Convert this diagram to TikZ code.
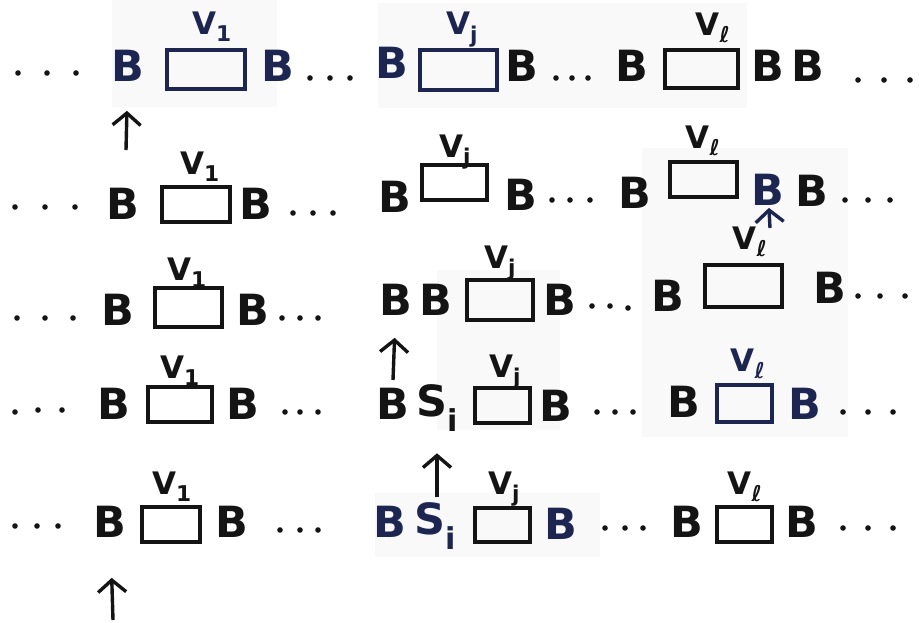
\documentclass[tikz,border=0pt]{standalone}
\usepackage{fontspec}
\setmainfont{DejaVu Sans}
\usetikzlibrary{arrows.meta}
\definecolor{ink}{HTML}{141414}
\definecolor{navy}{HTML}{1C2650}
\definecolor{paper}{HTML}{F9F9FA}

\begin{document}
\begin{tikzpicture}[x=1pt, y=-1pt,
  cell/.style={inner sep=0pt, font=\fontsize{43}{46}\selectfont\bfseries},
  slot/.style={draw, line width=3.6pt, inner sep=0pt},
  lab/.style={inner sep=0pt, font=\fontsize{31}{34}\selectfont\bfseries},
  head/.style={line width=3.4pt, -{Straight Barb[length=12pt,width=28pt]}}]
\useasboundingbox (0,0) rectangle (920,623);

% ---------- pasted patches behind some cells
\foreach \xa/\ya/\xb/\yb in {112/0/277/107, 378/3/747/108, 642/148/848/437,
                             437/270/560/430, 375/493/600/557}
  \fill[paper] (\xa,\ya) rectangle (\xb,\yb);

% ---------- blank cells
\foreach \n/\x/\y/\c in {r1b1/128/66/navy, r1b2/278/66/navy, r1b3/392/63/navy, r1b4/522/66/ink,
                         r1b5/632/66/ink, r1b6/768/66/ink, r1b7/808/66/ink,
                         r2b1/123/204/ink, r2b2/256/204/ink, r2b3/395/197/ink, r2b4/521/195/ink,
                         r2b5/635/193/ink, r2b6/768/190/navy, r2b7/812/191/ink,
                         r3b1/118/310/ink, r3b2/253/310/ink, r3b3/396/300/ink, r3b4/436/300/ink,
                         r3b5/560/300/ink, r3b6/668/296/ink, r3b7/830/288/ink,
                         r4b1/114/404/ink, r4b2/243/404/ink, r4b3/393/404/ink, r4b4/556/406/ink,
                         r4b5/684/402/ink, r4b6/805/404/navy,
                         r5b1/110/522/ink, r5b2/232/522/ink, r5b3/390/522/navy, r5b4/561/524/navy,
                         r5b5/687/522/ink, r5b6/802/522/ink}
  \node[cell, text=\c] (\n) at (\x,\y) {B};
\node[cell, text=ink] (r4si) at (437,408) {S\textsubscript{i}};
\node[cell, text=navy] (r5si) at (435,526) {S\textsubscript{i}};

% ---------- the V blocks
\foreach \n/\x/\y/\w/\h/\c in {r1v1/206/69.5/78/39/navy, r1vj/458.5/70/77/40/navy, r1vl/701.5/69/73/38/ink,
                               r2v1/196/204.5/68/35/ink, r2vj/454.5/182.5/65/35/ink, r2vl/703.5/179.5/67/35/ink,
                               r3v1/188.5/307.5/67/39/ink, r3vj/500/300/66/40/ink, r3vl/743.5/286/77/42/ink,
                               r4v1/180/404.5/64/35/ink, r4vj/502.5/405.5/55/35/ink, r4vl/744.5/403.5/55/37/navy,
                               r5v1/171/524.5/58/35/ink, r5vj/502.5/525/55/34/ink, r5vl/744.5/524.5/55/35/ink}
  \node[slot, draw=\c, minimum width=\w*1pt, minimum height=\h*1pt] (\n) at (\x,\y) {};

% ---------- block names
\foreach \n/\x/\y/\s/\c in {r1l1/212/27/1/navy, r1lj/462/30/j/navy, r1ll/713/28/ℓ/ink,
                            r2l1/200/167/1/ink, r2lj/455/152/j/ink, r2ll/703/141/ℓ/ink,
                            r3l1/187/273/1/ink, r3lj/500/263/j/ink, r3ll/750/242/ℓ/ink,
                            r4l1/180/371/1/ink, r4lj/505/372/j/ink, r4ll/748/364/ℓ/navy,
                            r5l1/172/487/1/ink, r5lj/504/489/j/ink, r5ll/745/487/ℓ/ink}
  \node[lab, text=\c] (\n) at (\x,\y) {V\textsubscript{\s}};

% ---------- dots
\foreach \x/\y in {18/73, 47/73, 76/73, 310/78, 330/78, 350/78, 556/78, 572/78, 588/78,
                   858/80, 884/80, 910/80,
                   15/207, 45/207, 75/207, 293/213, 313/213, 333/213, 552/200, 570/200, 590/200,
                   845/200, 868/200, 890/200,
                   17/318, 45/318, 73/318, 282/318, 300/318, 318/318, 592/306, 610/306, 628/308,
                   858/296, 880/296, 905/296,
                   15/412, 38/410, 62/410, 285/412, 300/412, 318/412, 597/412, 615/412, 633/412,
                   843/412, 868/412, 893/412,
                   15/526, 37/526, 58/526, 280/530, 300/530, 318/530, 605/528, 625/528, 643/528,
                   843/528, 868/528, 893/528}
  \fill[ink] (\x,\y) circle (2.8pt);

% ---------- head positions
\coordinate (t1) at (126,150);
\coordinate (t2) at (770,228);
\coordinate (t3) at (393,380);
\coordinate (t4) at (437,497);
\coordinate (t5) at (113,620);
\draw[head, ink, shorten >=29pt] (t1) -- (r1b1);
\draw[head, navy, shorten >=2pt] (t2) -- (r2b6);
\draw[head, ink, shorten >=22pt] (t3) -- (r3b3);
\draw[head, ink, shorten >=22pt] (t4) -- (r4si);
\draw[head, ink, shorten >=40pt] (t5) -- (r5b1);

\end{tikzpicture}
\end{document}
